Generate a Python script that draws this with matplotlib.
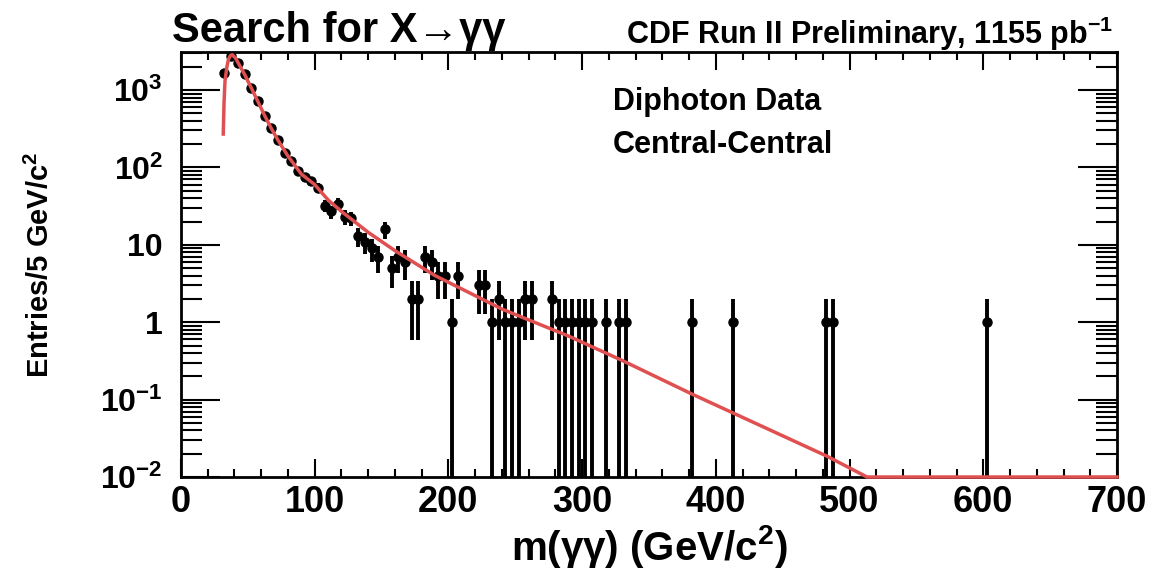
import numpy as np
import matplotlib
matplotlib.use("Agg")
import matplotlib.pyplot as plt
from matplotlib.ticker import FixedLocator, MultipleLocator, NullFormatter

plt.rcParams['font.family'] = ['Liberation Sans', 'DejaVu Sans']
plt.rcParams['font.weight'] = 'bold'
plt.rcParams['mathtext.fontset'] = 'custom'
plt.rcParams['mathtext.rm'] = 'Liberation Sans:bold'
plt.rcParams['mathtext.bf'] = 'Liberation Sans:bold'
plt.rcParams['mathtext.default'] = 'bf'

# diphoton mass spectrum, 5 GeV bins (bin centre, entries)
mass = [32.5, 37.5, 42.5, 47.5, 52.5, 57.5, 62.5, 67.5, 72.5, 77.5,
        82.5, 87.5, 92.5, 97.5, 102.5, 107.5, 112.5, 117.5, 122.5, 127.5,
        132.5, 137.5, 142.5, 147.5, 152.5, 157.5, 162.5, 167.5, 172.5, 177.5,
        182.5, 187.5, 192.5, 197.5, 202.5, 207.5, 222.5, 227.5, 232.5, 237.5,
        242.5, 247.5, 252.5, 257.5, 262.5, 277.5, 282.5, 287.5, 292.5, 297.5,
        302.5, 307.5, 317.5, 327.5, 332.5, 382.5, 412.5, 482.5, 487.5, 602.5]
entries = [1660, 2750, 2240, 1590, 1060, 720, 460, 320, 226, 152,
           120, 89, 76, 66, 55, 32, 27, 34, 23, 22,
           13, 11, 9, 7, 16, 5, 7, 6, 2, 2,
           7, 6, 4, 4, 1, 4, 3, 3, 1, 2,
           1, 1, 1, 2, 2, 2, 1, 1, 1, 1,
           1, 1, 1, 1, 1, 1, 1, 1, 1, 1]

# background fit curve
fit_mass = [31.6, 32.2, 32.9, 34.2, 35.4, 37.0, 38.5, 41.0, 44.0, 47.5,
            52.5, 57.5, 62.5, 67.5, 72.5, 80, 90, 100, 110, 120,
            140, 160, 190, 240, 290, 330, 383, 413, 483, 513, 700]
fit_val = [270, 700, 1300, 1940, 2460, 2800, 2850, 2550, 2050, 1600,
           1070, 710, 470, 320, 225, 140, 82, 60, 38, 27,
           14.5, 8.4, 4.0, 1.48, 0.66, 0.32, 0.116, 0.067, 0.0186, 0.01, 0.01]

y_min, y_max = 0.01, 3100

fig = plt.figure(figsize=(11.63, 5.71), dpi=100)
ax = fig.add_axes([181 / 1163, 1 - 477 / 571, 936 / 1163, 425 / 571])

n = np.array(entries, dtype=float)
err = np.sqrt(n)
lo = np.minimum(err, n - y_min * 0.5)
ax.errorbar(mass, n, yerr=[lo, err], fmt='o', color='black', ms=6.5,
            elinewidth=2.8, capsize=0, zorder=3)
ax.plot(fit_mass, np.clip(fit_val, y_min, None), color='#e05050', lw=2.5,
        zorder=4, clip_on=False)

ax.set_yscale('log')
ax.set_xlim(0, 700)
ax.set_ylim(y_min, y_max)

ax.xaxis.set_major_locator(MultipleLocator(100))
ax.xaxis.set_minor_locator(MultipleLocator(20))
ax.yaxis.set_major_locator(FixedLocator([1e-2, 1e-1, 1, 10, 100, 1000]))
ax.yaxis.set_minor_locator(FixedLocator(
    [m * 10.0 ** e for e in range(-2, 4) for m in range(2, 10)]))
ax.yaxis.set_minor_formatter(NullFormatter())
ax.set_yticklabels([r'$10^{-2}$', r'$10^{-1}$', '1', '10', r'$10^{2}$', r'$10^{3}$'])

ax.tick_params(which='both', direction='in', top=True, right=True, width=1.5)
ax.tick_params(axis='x', which='major', length=13, labelsize=26, pad=6)
ax.tick_params(axis='x', which='minor', length=6)
ax.tick_params(axis='y', which='major', length=28, labelsize=23, pad=13)
ax.tick_params(axis='y', which='minor', length=15)
for s in ax.spines.values():
    s.set_linewidth(2)

fig.text(172 / 1163, 1 - 42 / 571, 'Search for X\u2192\u03b3\u03b3',
         fontsize=30, fontweight='bold', ha='left', va='baseline')
fig.text(1113 / 1163, 1 - 44 / 571, r'CDF Run II Preliminary, 1155 pb$^{-1}$',
         fontsize=22, fontweight='bold', ha='right', va='baseline')
fig.text(613 / 1163, 1 - 110 / 571, 'Diphoton Data',
         fontsize=22, fontweight='bold', va='baseline')
fig.text(613 / 1163, 1 - 153 / 571, 'Central-Central',
         fontsize=22, fontweight='bold', va='baseline')

ax.set_xlabel(r'm($\gamma\gamma$) (GeV/c$^{2}$)', fontsize=29,
              fontweight='bold', labelpad=2)
ax.set_ylabel(r'Entries/5 GeV/c$^{2}$', fontsize=21, fontweight='bold')
ax.yaxis.set_label_coords(-0.135, 0.5)

fig.savefig('out.png', dpi=100)
